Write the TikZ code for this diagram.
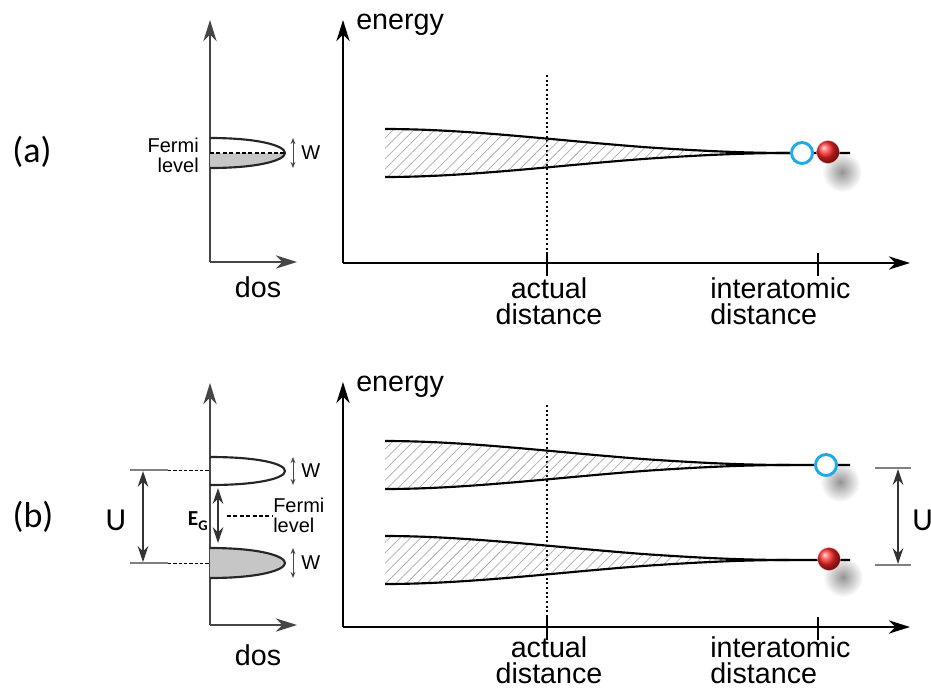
\documentclass[tikz,border=0pt]{standalone}
\usepackage{fontspec}
\setmainfont{Liberation Sans}
\newfontfamily\calfont{Carlito}
\usetikzlibrary{arrows.meta,patterns.meta}

\definecolor{holeblue}{RGB}{30,170,230}
\definecolor{dosgray}{RGB}{70,70,70}

\begin{document}
\begin{tikzpicture}[x=0.75pt,y=0.75pt,yscale=-1,xscale=1,
  lbl/.style={inner sep=0pt, font=\fontsize{21.5}{19.5}\selectfont},
  smalllbl/.style={inner sep=0pt, font=\fontsize{15}{15}\selectfont},
  biglbl/.style={inner sep=0pt, font=\calfont\fontsize{27}{27}\selectfont},
  axisline/.style={line width=1.1pt, -{Stealth[length=16pt,width=10pt,inset=5pt]}},
  dosaxis/.style={axisline, draw=dosgray},
  bandline/.style={line width=1.6pt},
  hatch/.style={pattern={Lines[angle=45,distance=5.5pt,line width=0.55pt]}, pattern color=gray!65},
  dotline/.style={line width=1.2pt, dash pattern=on 1.5pt off 2pt},
  fermidash/.style={line width=1.3pt, dash pattern=on 3pt off 1.8pt},
  leveldash/.style={line width=0.6pt, dash pattern=on 2.5pt off 1.5pt},
  levelline/.style={line width=0.8pt, draw=gray},
  warrow/.style={line width=0.7pt, draw=dosgray, {Stealth[length=4.5pt,width=3.5pt]}-{Stealth[length=4.5pt,width=3.5pt]}},
  uarrow/.style={line width=1pt, {Stealth[length=12pt,width=8pt,inset=4pt]}-{Stealth[length=12pt,width=8pt,inset=4pt]}},
  shadow/.style={inner color=black!42, outer color=white},
  hole/.style={line width=2.2pt, draw=holeblue, fill=white},
  electron/.style={ball color=red!85!white, draw=red!30, line width=0.3pt}
]
\useasboundingbox (0,0) rectangle (931,689);

%%%%%%%%%%%%%%%%%%%% panel (a)
% DOS axes
\draw [dosaxis] (210,262) -- (210,20) ;
\draw [dosaxis] (210,262) -- (297,262) ;
% DOS band (half filled)
\fill [gray!45] (210,153) -- (285,153) .. controls (285,160) and (260,168) .. (210,168) -- cycle ;
\draw [bandline, draw=black!85] (210,138) .. controls (260,138) and (285,146) .. (285,153) .. controls (285,160) and (260,168) .. (210,168) ;
\draw [fermidash] (210,153) -- (285,153) ;
\draw [warrow] (293,138) -- (293,168) ;

% Energy axes
\draw [axisline] (343,263) -- (343,20) ;
\draw [axisline] (343,263) -- (910,263) ;
\draw [line width=1pt] (547,253) -- (547,276) ;
\draw [line width=1pt] (818,253) -- (818,276) ;
\draw [dotline] (547,75) -- (547,263) ;

%%%%%%%%%%%%%%%%%%%% panel (b)
% DOS axes
\draw [dosaxis] (210,625) -- (210,383) ;
\draw [dosaxis] (210,625) -- (297,625) ;
% DOS bands
\fill [gray!45] (210,548) .. controls (260,548) and (285,556) .. (285,563) .. controls (285,570) and (260,578) .. (210,578) -- cycle ;
\draw [bandline, draw=black!85] (210,457) .. controls (260,457) and (285,464) .. (285,471) .. controls (285,478) and (260,485) .. (210,485) ;
\draw [bandline, draw=black!85] (210,548) .. controls (260,548) and (285,556) .. (285,563) .. controls (285,570) and (260,578) .. (210,578) ;
\draw [warrow] (293,457) -- (293,485) ;
\draw [warrow] (293,548) -- (293,578) ;
% U and gap
\draw [levelline] (130,470) -- (168,470) ;
\draw [levelline] (130,563) -- (168,563) ;
\draw [leveldash] (168,470) -- (210,470) ;
\draw [leveldash] (168,563) -- (210,563) ;
\draw [uarrow, draw=black!80] (143,471) -- (143,562) ;
\draw [uarrow, draw=black!80] (218,488) -- (218,543) ;
\draw [fermidash, line width=1pt] (227,516) -- (272,516) ;

% Energy axes
\draw [axisline] (343,627) -- (343,382) ;
\draw [axisline] (343,627) -- (910,627) ;
\draw [line width=1pt] (547,617) -- (547,640) ;
\draw [line width=1pt] (818,617) -- (818,640) ;
\draw [dotline] (547,405) -- (547,627) ;
% right U
\draw [levelline] (875,468) -- (911,468) ;
\draw [levelline] (875,565) -- (911,565) ;
\draw [uarrow, draw=black!80] (898,469) -- (898,564) ;

%%%%%%%%%%%%%%%%%%%% bands vs distance
\foreach \c in {153,465,560} {
  \fill [hatch] (385,\c-24) .. controls (470,\c-24) and (560,\c-12) .. (650,\c-5.5) .. controls (710,\c-1.5) and (750,\c) .. (790,\c)
     .. controls (750,\c) and (710,\c+1.5) .. (650,\c+5.5) .. controls (560,\c+12) and (470,\c+24) .. (385,\c+24) -- cycle ;
}
% shadows
\shade [shadow] (842,172) circle (20) ;
\shade [shadow] (840,482) circle (20) ;
\shade [shadow] (843,577) circle (20) ;
\foreach \c in {153,465,560} {
  \draw [bandline] (385,\c-24) .. controls (470,\c-24) and (560,\c-12) .. (650,\c-5.5) .. controls (710,\c-1.5) and (750,\c) .. (790,\c) -- (850,\c) ;
  \draw [bandline] (385,\c+24) .. controls (470,\c+24) and (560,\c+12) .. (650,\c+5.5) .. controls (710,\c+1.5) and (750,\c) .. (790,\c) ;
}
% holes and electrons
\draw [hole] (802,153) circle (10.5) ;
\shade [electron] (828,152) circle (11.5) ;
\draw [hole] (826,465) circle (10.5) ;
\shade [electron] (829,559) circle (11.5) ;

% Text Node
\node (lblA) [biglbl] at (32,152) {(a)};
\node (lblB) [biglbl] at (33,517) {(b)};
\node (dosA) [lbl] at (258,287) {dos};
\node (dosB) [lbl] at (258,655) {dos};
\node (energyA) [lbl, anchor=west] at (356,25) {energy};
\node (energyB) [lbl, anchor=west] at (356,387) {energy};
\node (actualA) [lbl, anchor=north, align=center] at (549,277) {actual\\distance};
\node (interA) [lbl, anchor=north west, align=left] at (710,277) {interatomic\\distance};
\node (actualB) [lbl, anchor=north, align=center] at (549,636) {actual\\distance};
\node (interB) [lbl, anchor=north west, align=left] at (710,636) {interatomic\\distance};
\node (fermiA) [smalllbl, anchor=north east, align=right] at (199,138) {Fermi\\level};
\node (fermiB) [smalllbl, anchor=north west, align=left] at (273,498) {Fermi\\level};
\node (wA) [smalllbl, anchor=west] at (301,153) {W};
\node (wB1) [smalllbl, anchor=west] at (301,471) {W};
\node (wB2) [smalllbl, anchor=west] at (301,563) {W};
\node (uL) [biglbl, font=\calfont\fontsize{24}{24}\selectfont] at (116,520) {U};
\node (uR) [biglbl, font=\calfont\fontsize{24}{24}\selectfont, anchor=west] at (912,520) {U};
\node (eg) [anchor=east, inner sep=0pt] at (208,521) {\calfont\bfseries\fontsize{16}{16}\selectfont E\raisebox{-3.5pt}{\fontsize{11}{11}\selectfont G}};

\end{tikzpicture}
\end{document}
